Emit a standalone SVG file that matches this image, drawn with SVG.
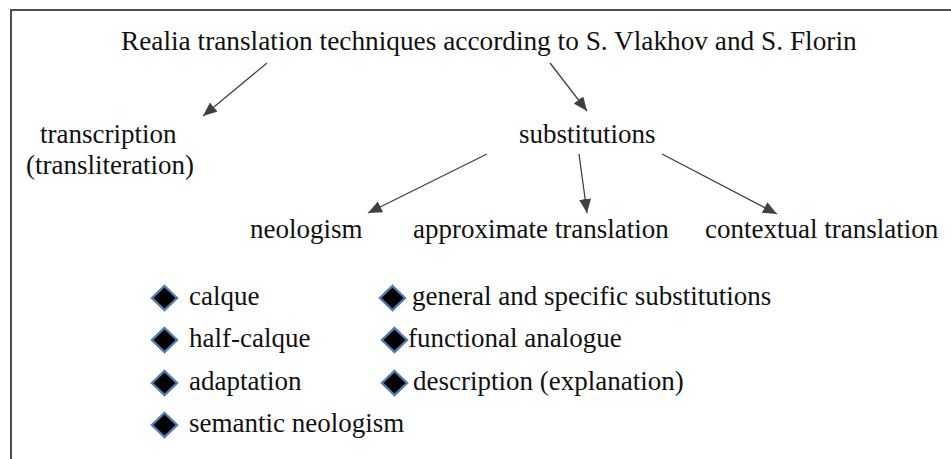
<svg xmlns="http://www.w3.org/2000/svg" width="951" height="459" viewBox="0 0 951 459">
<defs>
<style>
.t{font-family:'Liberation Serif','Times New Roman','DejaVu Serif',serif;font-size:27px;fill:#111;}
.c{stroke:#404040;stroke-width:1.3;fill:none;}
.d{fill:#000;stroke:#4f7fb0;stroke-width:2.4;stroke-linejoin:miter;}
</style>
<marker id="ah" markerUnits="userSpaceOnUse" markerWidth="16" markerHeight="14" refX="14" refY="6" orient="auto">
<path d="M0,0 L14,6 L0,12 Z" fill="#404040"/>
</marker>
<path id="dia" d="M0,-12 L12.5,0 L0,12 L-12.5,0 Z"/>
</defs>
<rect width="951" height="459" fill="#fff"/>
<path d="M11,459 L11,10 L951,10" fill="none" stroke="#505050" stroke-width="2"/>
<g class="t" font-family="Liberation Serif, Times New Roman, serif">
<g id="title"><text x="121" y="50" font-size="27.3">Realia translation techniques according to S. Vlakhov and S. Florin</text></g>
<g id="transcription"><text x="40" y="143">transcription</text><text x="26" y="174">(transliteration)</text></g>
<g id="substitutions"><text x="519" y="143">substitutions</text></g>
<g id="neologism"><text x="250" y="238">neologism</text></g>
<g id="approximate"><text x="413" y="238">approximate translation</text></g>
<g id="contextual"><text x="705" y="238">contextual translation</text></g>
<g id="calque"><use href="#dia" class="d" x="164.5" y="298"/><text x="189" y="305">calque</text></g>
<g id="half-calque"><use href="#dia" class="d" x="164.5" y="340"/><text x="189" y="347">half-calque</text></g>
<g id="adaptation"><use href="#dia" class="d" x="164.5" y="383"/><text x="189" y="390">adaptation</text></g>
<g id="semantic-neologism"><use href="#dia" class="d" x="164.5" y="425"/><text x="189" y="432">semantic neologism</text></g>
<g id="general"><use href="#dia" class="d" x="392.5" y="298"/><text x="412" y="305">general and specific substitutions</text></g>
<g id="functional"><use href="#dia" class="d" x="394.5" y="340"/><text x="408" y="347">functional analogue</text></g>
<g id="description"><use href="#dia" class="d" x="394.5" y="383"/><text x="413" y="390">description (explanation)</text></g>
</g>
<g id="connectors">
<line class="c" x1="267" y1="63" x2="203" y2="116" marker-end="url(#ah)"/>
<line class="c" x1="550" y1="63" x2="587" y2="111" marker-end="url(#ah)"/>
<line class="c" x1="487" y1="154" x2="368" y2="213" marker-end="url(#ah)"/>
<line class="c" x1="579" y1="154" x2="587" y2="213" marker-end="url(#ah)"/>
<line class="c" x1="662" y1="154" x2="777" y2="214" marker-end="url(#ah)"/>
</g>
</svg>
